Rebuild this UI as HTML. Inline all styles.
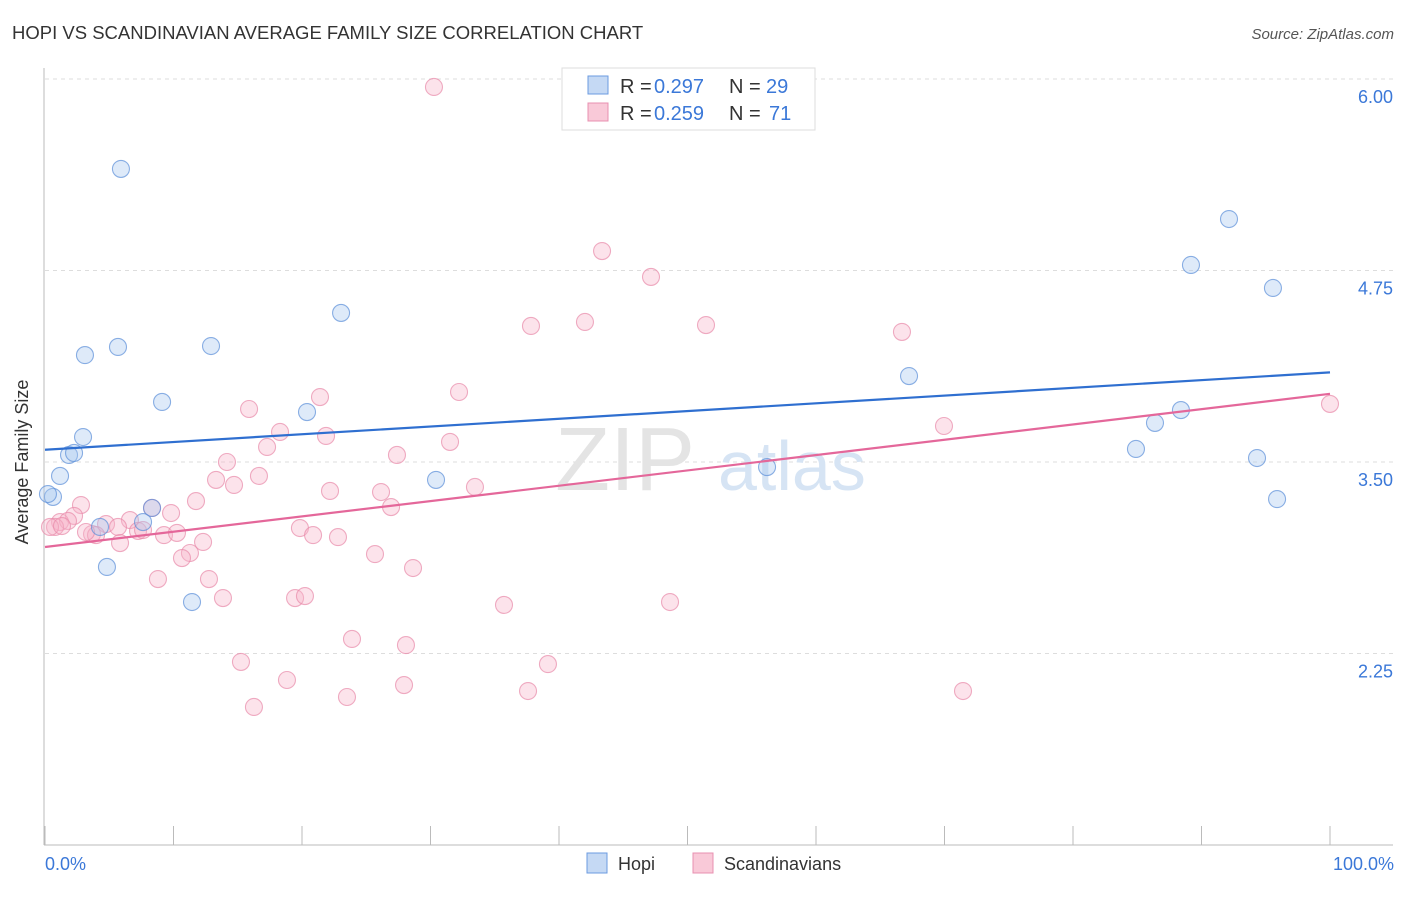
<!DOCTYPE html>
<html><head><meta charset="utf-8"><style>
body{margin:0;background:#fff;font-family:"Liberation Sans",sans-serif;}
svg text{font-family:"Liberation Sans",sans-serif;}
</style></head><body>
<svg width="1406" height="892">
<text x="12" y="39" font-size="18.5" fill="#333">HOPI VS SCANDINAVIAN AVERAGE FAMILY SIZE CORRELATION CHART</text>
<text x="1394" y="39" font-size="15" fill="#555" font-style="italic" text-anchor="end">Source: ZipAtlas.com</text>
<g id="grid"></g>
<text x="555" y="490" font-size="90" fill="#e4e4e4" font-family="Liberation Serif">ZIP</text>
<text x="718" y="490" font-size="70" fill="#d6e4f4">atlas</text>
<line x1="44" y1="68" x2="44" y2="845" stroke="#bbb"/>
<line x1="44" y1="845" x2="1393" y2="845" stroke="#bbb"/>
<g id="ticks"></g>
<g id="pts"></g>
<g id="trend"></g>
<text x="22" y="456" font-size="18" fill="#333" transform="rotate(-90 28 456)" text-anchor="middle">Average Family Size</text>
<text x="45" y="870" font-size="18" fill="#3b78d8">0.0%</text>
<text x="1394" y="870" font-size="18" fill="#3b78d8" text-anchor="end">100.0%</text>
<g>
<rect x="562" y="68" width="253" height="62" fill="#fff" stroke="#ddd"/>
<rect x="588" y="76" width="20" height="18" fill="#c5d9f4" stroke="#6b9be0"/>
<rect x="588" y="103" width="20" height="18" fill="#f9c9d8" stroke="#e890b0"/>
<text x="620" y="93" font-size="20" fill="#333">R =</text>
<text x="654" y="93" font-size="20" fill="#3b78d8">0.297</text>
<text x="729" y="93" font-size="20" fill="#333">N =</text>
<text x="766" y="93" font-size="20" fill="#3b78d8">29</text>
<text x="620" y="120" font-size="20" fill="#333">R =</text>
<text x="654" y="120" font-size="20" fill="#3b78d8">0.259</text>
<text x="729" y="120" font-size="20" fill="#333">N =</text>
<text x="769" y="120" font-size="20" fill="#3b78d8">71</text>
</g>
<g>
<rect x="587" y="853" width="20" height="20" fill="#c5d9f4" stroke="#6b9be0"/>
<text x="618" y="870" font-size="18" fill="#333">Hopi</text>
<rect x="693" y="853" width="20" height="20" fill="#f9c9d8" stroke="#e890b0"/>
<text x="724" y="870" font-size="18" fill="#333">Scandinavians</text>
</g>
</svg>
<script>
const yTicks=[6.00,4.75,3.50,2.25];
const xTickCount=10;
const hopiPx=[[121,169],[1229,219],[1191,265],[1273,288],[341,313],[118,347],[211,346],[85,355],[909,376],[162,402],[307,412],[1181,410],[1155,423],[83,437],[69,455],[74,453],[1136,449],[1257,458],[767,467],[60,476],[436,480],[53,497],[1277,499],[152,508],[143,522],[100,527],[107,567],[192,602],[48,494]];
const scanPx=[[434,87],[602,251],[651,277],[531,326],[585,322],[706,325],[902,332],[459,392],[320,397],[249,409],[944,426],[280,432],[326,436],[450,442],[267,447],[397,455],[227,462],[259,476],[216,480],[234,485],[330,491],[381,492],[475,487],[196,501],[391,507],[81,505],[152,508],[171,513],[74,516],[130,520],[60,522],[68,521],[55,527],[106,524],[118,527],[138,531],[143,530],[92,534],[96,535],[164,535],[177,533],[300,528],[313,535],[338,537],[203,542],[120,543],[190,553],[182,558],[375,554],[413,568],[158,579],[209,579],[223,598],[295,598],[305,596],[504,605],[670,602],[352,639],[406,645],[241,662],[548,664],[287,680],[404,685],[528,691],[347,697],[963,691],[254,707],[1330,404],[50,527],[62,526],[86,532]];
const fx=p=>(p-45)/1285*100, fy=p=>6-(p-79)/153.2;
const hopiX=hopiPx.map(p=>+fx(p[0]).toFixed(2)), hopiY=hopiPx.map(p=>+fy(p[1]).toFixed(3));
const scanX=scanPx.map(p=>+fx(p[0]).toFixed(2)), scanY=scanPx.map(p=>+fy(p[1]).toFixed(3));
const hopiTrend=[3.58,4.085], scanTrend=[2.945,3.945];
const X=v=>45+v/100*1285, Y=v=>79+(6-v)*153.2;
const NS='http://www.w3.org/2000/svg';
function mk(t,a,parent){const e=document.createElementNS(NS,t);for(const k in a)e.setAttribute(k,a[k]);document.getElementById(parent).appendChild(e);return e;}
yTicks.forEach(t=>{
 const l=mk('line',{x1:45,x2:1393,y1:Y(t),y2:Y(t),stroke:'#ddd','stroke-dasharray':'4,4'},'grid');
 
 
 const tx=mk('text',{x:1393,y:Y(t)+24,'font-size':18,fill:'#3b78d8','text-anchor':'end'},'grid');
 tx.textContent=t.toFixed(2);
 
 
});
for(let i=0;i<=xTickCount;i++){
 const l=mk('line',{x1:X(i*10),x2:X(i*10),y1:826,y2:845,stroke:'#bbb'},'ticks');
 
 
}
function pts(xs,ys,fill,stroke,name){xs.forEach((x,i)=>{
 const c=mk('circle',{cx:X(x),cy:Y(ys[i]),r:8.5,fill:fill,'fill-opacity':0.38,stroke:stroke,'stroke-opacity':0.7,'stroke-width':1.1},'pts');
 
 
});}
pts(scanX,scanY,'#f7b6cb','#e88aaa','scandinavian-point');
pts(hopiX,hopiY,'#a9c8f0','#5b8fd8','hopi-point');
const t1=mk('line',{x1:X(0),y1:Y(hopiTrend[0]),x2:X(100),y2:Y(hopiTrend[1]),stroke:'#2f6fd0','stroke-width':2.2},'trend');


const t2=mk('line',{x1:X(0),y1:Y(scanTrend[0]),x2:X(100),y2:Y(scanTrend[1]),stroke:'#e4679a','stroke-width':2.2},'trend');


</script>
</body></html>
